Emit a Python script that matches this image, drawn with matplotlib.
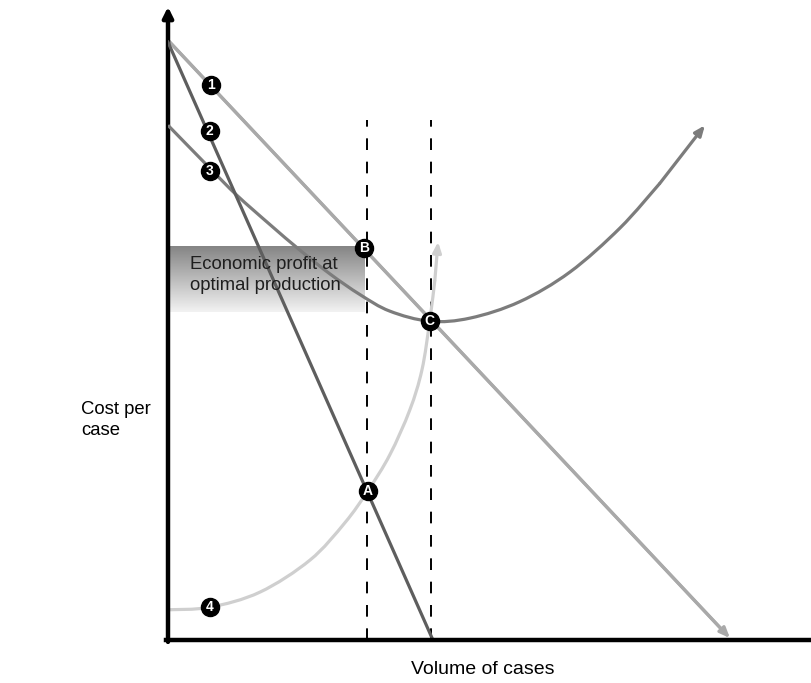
import numpy as np
import matplotlib.pyplot as plt
from matplotlib.colors import LinearSegmentedColormap
from matplotlib.path import Path
from matplotlib.patches import PathPatch

plt.rcParams['font.family'] = ['Liberation Sans', 'DejaVu Sans']

# straight lines (start, end) in data units
line1_x = [0, 87.4]
line1_y = [95.2, 0.3]
line2_x = [0, 41.2]
line2_y = [94.9, 0.0]

# U-shaped curve 3
curve3_x = [0, 6.5, 10.7, 15.9, 20.5, 25.2, 29.9, 34.5, 40.7, 47.0, 54.7, 62.5, 70.3, 76.5, 83.5]
curve3_y = [81.7, 74.9, 70.6, 65.9, 61.9, 58.1, 54.8, 52.2, 50.6, 51.1, 53.7, 58.4, 65.4, 72.5, 81.7]

# rising curve 4
curve4_x = [0, 6.5, 14.3, 22.1, 27.5, 31.1, 34.5, 37.6, 39.5, 40.7, 41.5, 42.0]
curve4_y = [4.8, 5.2, 7.6, 12.7, 18.6, 23.7, 29.4, 36.5, 42.9, 50.6, 57.1, 63.2]

# dashed verticals
dash_x = [31.0, 40.9]
dash_top = 82.5

# labelled points
labels = ['1', '2', '3', 'B', 'C', 'A', '4']
label_x = [6.7, 6.5, 6.5, 30.5, 40.7, 31.1, 6.5]
label_y = [88.1, 80.8, 74.4, 62.2, 50.6, 23.7, 5.2]

box_x = [0, 30.5]
box_y = [52.1, 62.5]

fig = plt.figure(figsize=(8.11, 6.83), dpi=100)
ax = fig.add_axes([168/811, 43/683, 643/811, 630/683])
ax.set_xlim(0, 100)
ax.set_ylim(0, 100)
ax.axis('off')

# gradient box
cmap = LinearSegmentedColormap.from_list('g', ['#f2f2f2', '#858585'])
grad = np.linspace(0, 1, 100).reshape(-1, 1)
ax.imshow(grad, extent=[box_x[0], box_x[1], box_y[0], box_y[1]], origin='lower',
          cmap=cmap, aspect='auto', zorder=1)
ax.text(3.4, 57.9, 'Economic profit at\noptimal production', fontsize=13.3,
        color='#1e1e1e', va='center', ha='left', zorder=6, linespacing=1.3)

lw = 2.3

def smooth_path(xs, ys):
    # catmull-rom through the read points, drawn as bezier segments
    p = np.column_stack([xs, ys])
    verts = [p[0]]
    codes = [Path.MOVETO]
    for i in range(len(p) - 1):
        p0 = p[i - 1] if i > 0 else p[i]
        p3 = p[i + 2] if i + 2 < len(p) else p[i + 1]
        c1 = p[i] + (p[i + 1] - p0) / 6
        c2 = p[i + 1] - (p3 - p[i]) / 6
        verts += [c1, c2, p[i + 1]]
        codes += [Path.CURVE4] * 3
    return Path(verts, codes)

def arrow_curve(xs, ys, color, z):
    ax.add_patch(PathPatch(smooth_path(xs[:-1], ys[:-1]), fill=False, ec=color,
                           lw=lw, zorder=z, capstyle='butt'))
    ax.annotate('', xy=(xs[-1], ys[-1]), xytext=(xs[-2], ys[-2]),
                arrowprops=dict(arrowstyle='-|>,head_length=0.6,head_width=0.25',
                                color=color, lw=lw, shrinkA=0, shrinkB=0), zorder=z)

for dx in dash_x:
    ax.plot([dx, dx], [0, dash_top], color='black', lw=1.4, ls=(0, (6, 6)), zorder=2)

arrow_curve(curve4_x, curve4_y, '#cfcfcf', 3)
ax.plot(line1_x[:1] + [line1_x[1] - 1.5], line1_y[:1] + [line1_y[1] + 1.6],
        color='#a9a9a9', lw=lw, zorder=3)
ax.annotate('', xy=(line1_x[1], line1_y[1]), xytext=(line1_x[0], line1_y[0]),
            arrowprops=dict(arrowstyle='-|>,head_length=0.6,head_width=0.25',
                            color='#a9a9a9', lw=lw, shrinkA=0, shrinkB=0), zorder=3)
arrow_curve(curve3_x, curve3_y, '#7c7c7c', 4)
ax.plot(line2_x, line2_y, color='#5e5e5e', lw=lw, zorder=5)

for t, x, y in zip(labels, label_x, label_y):
    ax.plot(x, y, 'o', ms=13, color='black', zorder=7)
    ax.text(x, y, t, color='white', fontsize=10, fontweight='bold', ha='center',
            va='center', zorder=8)

# axes
ax.annotate('', xy=(0, 100.5), xytext=(0, -0.3),
            arrowprops=dict(arrowstyle='-|>,head_length=0.6,head_width=0.3',
                            color='black', lw=3.2, shrinkA=0, shrinkB=0), annotation_clip=False)
ax.plot([-0.3, 100], [0, 0], color='black', lw=3.2, clip_on=False, zorder=9)

fig.text(81/811, 1 - 420/683, 'Cost per\ncase', fontsize=13.3, ha='left', va='center',
         linespacing=1.25)
fig.text(483/811, 1 - 670/683, 'Volume of cases', fontsize=14, ha='center', va='center')

fig.savefig('out.png', dpi=100)
